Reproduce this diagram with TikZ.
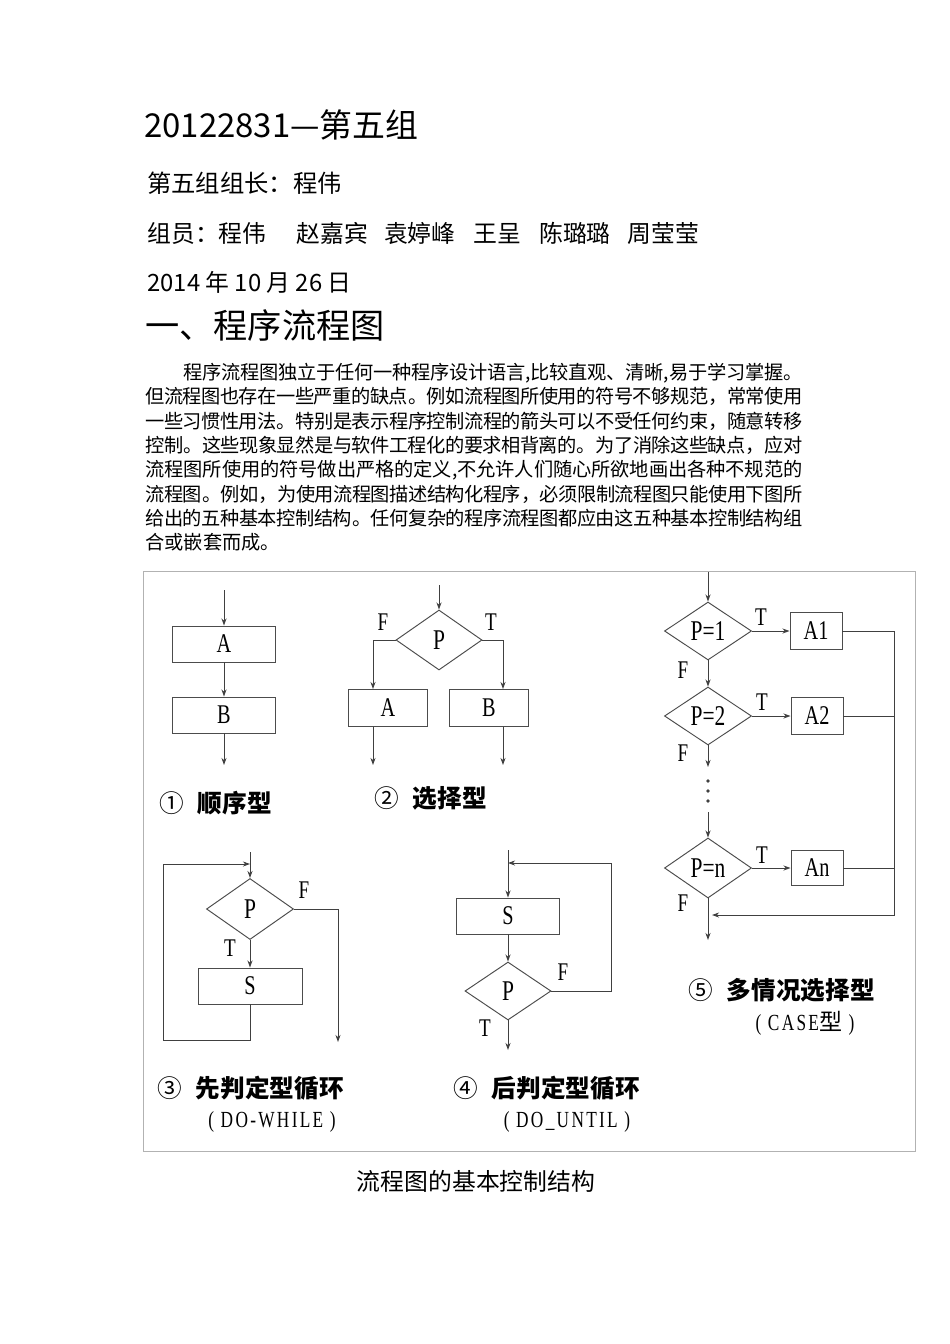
\documentclass[tikz,border=0pt]{standalone}
\usepackage{fontspec}
\usetikzlibrary{shapes.geometric,arrows.meta}
\setmainfont{Noto Sans CJK SC}
\newfontfamily\letterfont[FakeStretch=0.75]{Liberation Serif}
\newfontfamily\notefont[FakeStretch=0.75,LetterSpace=10]{Liberation Serif}
\newlength{\px}
\setlength{\px}{0.2211mm}
\XeTeXlinebreaklocale "zh"
\XeTeXlinebreakskip=0pt plus 1pt minus 0.6pt

\begin{document}
\begin{tikzpicture}[
    x=0.2211mm, y=-0.2211mm,
    head/.style={anchor=west, inner sep=0pt},
    sbox/.style={draw=black!70, line width=0.6pt, inner sep=0pt,
                 minimum width=103*\px, minimum height=36*\px,
                 font=\letterfont\fontsize{17}{17}\selectfont},
    cond/.style={draw=black!70, line width=0.6pt, diamond, inner sep=0pt,
                 minimum width=86*\px, minimum height=59*\px,
                 font=\letterfont\fontsize{18}{18}\selectfont},
    flow/.style={draw=black!75, line width=0.6pt,
                 -{Stealth[length=4.5pt,width=3.2pt]}},
    link/.style={draw=black!75, line width=0.6pt},
    tf/.style={inner sep=0pt, font=\letterfont\fontsize{16}{16}\selectfont},
    kind/.style={anchor=west, inner sep=0pt,
                 font=\bfseries\fontsize{15.5}{16}\selectfont},
    note/.style={inner sep=0pt, font=\notefont\fontsize{14.5}{15}\selectfont},
  ]
    \path[fill=white] (0,0) rectangle (950,1344);
    \useasboundingbox (0,0) rectangle (950,1344);

    % page text
    \node[head, font=\fontsize{20.7}{24}\selectfont] (title) at (144,125)
      {20122831—第五组};
    \node[head, font=\fontsize{15.3}{18}\selectfont] (leader) at (147,183)
      {第五组组长：程伟};
    \node[head, font=\fontsize{15}{18}\selectfont] (members) at (147,233)
      {组员：程伟\hspace{30\px}赵嘉宾\hspace{16\px}袁婷峰\hspace{18\px}王呈\hspace{18\px}陈璐璐\hspace{17\px}周莹莹};
    \node[head, font=\fontsize{15}{18}\selectfont] (date) at (147,282)
      {2014 年 10 月 26 日};
    \node[head, font=\fontsize{21.5}{26}\selectfont] (section) at (145,325)
      {一、程序流程图};
    \node[anchor=north west, inner sep=0pt, text width=145.3mm, align=justify,
          font=\fontsize{12.1}{15.3}\selectfont] (intro) at (145,363)
      {\hspace*{38\px}程序流程图独立于任何一种程序设计语言,比较直观、清晰,易于学习掌握。\linebreak
       但流程图也存在一些严重的缺点。例如流程图所使用的符号不够规范，常常使用\linebreak
       一些习惯性用法。特别是表示程序控制流程的箭头可以不受任何约束，随意转移\linebreak
       控制。这些现象显然是与软件工程化的要求相背离的。为了消除这些缺点，应对\linebreak
       流程图所使用的符号做出严格的定义,不允许人们随心所欲地画出各种不规范的\linebreak
       流程图。例如，为使用流程图描述结构化程序，必须限制流程图只能使用下图所\linebreak
       给出的五种基本控制结构。任何复杂的程序流程图都应由这五种基本控制结构组\linebreak
       合或嵌套而成。};

    % figure frame
    \draw[black!30, line width=0.5pt] (143,571) rectangle (915,1151);

    % (1) sequence
    \node[sbox] (seqA) at (224,644) {A};
    \node[sbox] (seqB) at (224,715) {B};
    \coordinate (seqIn) at (224,590);
    \coordinate (seqOut) at (224,765);
    \draw[flow] (seqIn) -- (seqA);
    \draw[flow] (seqA) -- (seqB);
    \draw[flow] (seqB) -- (seqOut);
    \node[kind] (seqName) at (159,803) {{\mdseries ①}\hspace{14\px}顺序型};

    % (2) selection
    \node[cond, minimum height=60*\px] (selP) at (439,640) {P};
    \node[sbox, minimum width=79*\px, minimum height=37*\px] (selA) at (388,708) {A};
    \node[sbox, minimum width=79*\px, minimum height=37*\px] (selB) at (489,708) {B};
    \coordinate (selIn) at (439,585);
    \coordinate (selL) at (373,640);
    \coordinate (selR) at (503,640);
    \coordinate (selAOut) at (373,765);
    \coordinate (selBOut) at (503,765);
    \draw[flow] (selIn) -- (selP);
    \draw[flow] (selP.west) -- (selL) -- (selL |- selA.north);
    \draw[flow] (selP.east) -- (selR) -- (selR |- selB.north);
    \draw[flow] (selL |- selA.south) -- (selAOut);
    \draw[flow] (selR |- selB.south) -- (selBOut);
    \node[tf] (selF) at (383,622) {F};
    \node[tf] (selT) at (491,622) {T};
    \node[kind] (selName) at (374,798) {{\mdseries ②}\hspace{14\px}选择型};

    % (3) do-while
    \node[cond, minimum width=87*\px, minimum height=61*\px] (whP) at (250,909) {P};
    \node[sbox, minimum width=104*\px] (whS) at (250,986) {S};
    \coordinate (whIn) at (250,852);
    \coordinate (whJoin) at (250,864);
    \coordinate (whBack) at (163,1040);
    \coordinate (whF) at (338,909);
    \coordinate (whOut) at (338,1042);
    \draw[flow] (whIn) -- (whP);
    \draw[flow] (whP) -- (whS);
    \draw[flow] (whS.south) |- (whBack) |- (whJoin);
    \draw[flow] (whP.east) -- (whF) -- (whOut);
    \node[tf] (whFl) at (304,890) {F};
    \node[tf] (whTl) at (230,948) {T};
    \node[kind] (whName) at (157,1088) {{\mdseries ③}\hspace{14\px}先判定型循环};
    \node[note] (whNote) at (272,1122) {( DO-WHILE )};

    % (4) do-until
    \node[sbox] (unS) at (508,916) {S};
    \node[cond, minimum height=58*\px] (unP) at (508,991) {P};
    \coordinate (unIn) at (508,850);
    \coordinate (unBack) at (611,863);
    \coordinate (unJoin) at (508,863);
    \coordinate (unOut) at (508,1050);
    \draw[flow] (unIn) -- (unS);
    \draw[flow] (unS) -- (unP);
    \draw[flow] (unP.east) -| (unBack) -- (unJoin);
    \draw[flow] (unP) -- (unOut);
    \node[tf] (unFl) at (563,972) {F};
    \node[tf] (unTl) at (485,1028) {T};
    \node[kind] (unName) at (453,1088) {{\mdseries ④}\hspace{14\px}后判定型循环};
    \node[note] (unNote) at (567,1122) {( DO\_UNTIL )};

    % (5) case
    \node[cond, minimum width=87*\px, minimum height=58*\px] (caseP1) at (708,631) {P=1};
    \node[cond, minimum width=87*\px, minimum height=58*\px] (caseP2) at (708,716) {P=2};
    \node[cond, minimum width=87*\px, minimum height=60*\px] (casePn) at (708,868) {P=n};
    \node[sbox, minimum width=52*\px, minimum height=37*\px] (caseA1) at (816,631) {A1};
    \node[sbox, minimum width=52*\px, minimum height=37*\px] (caseA2) at (817,716) {A2};
    \node[sbox, minimum width=52*\px, minimum height=35*\px] (caseAn) at (817,868) {An};
    \coordinate (caseIn) at (708,572);
    \coordinate (caseMid) at (708,767);
    \coordinate (caseRe) at (708,812);
    \coordinate (caseBus) at (894,915);
    \coordinate (caseJoin) at (712,915);
    \coordinate (caseOut) at (708,940);
    \draw[flow] (caseIn) -- (caseP1);
    \draw[flow] (caseP1) -- (caseP2);
    \draw[flow] (caseP2) -- (caseMid);
    \foreach \y in {781,791,801}
      \fill[black!75] (708,\y) circle[radius=1.2pt];
    \draw[flow] (caseRe) -- (casePn);
    \draw[flow] (casePn) -- (caseOut);
    \draw[flow] (caseP1) -- (caseA1);
    \draw[flow] (caseP2) -- (caseA2);
    \draw[flow] (casePn) -- (caseAn);
    \draw[flow] (caseA1.east) -| (caseBus) -- (caseJoin);
    \draw[link] (caseA2.east) -- (caseA2.east -| caseBus);
    \draw[link] (caseAn.east) -- (caseAn.east -| caseBus);
    \node[tf] (caseT1) at (761,617) {T};
    \node[tf] (caseT2) at (762,702) {T};
    \node[tf] (caseTn) at (762,855) {T};
    \node[tf] (caseF1) at (683,670) {F};
    \node[tf] (caseF2) at (683,753) {F};
    \node[tf] (caseFn) at (683,903) {F};
    \node[kind] (caseName) at (688,990) {{\mdseries ⑤}\hspace{14\px}多情况选择型};
    \node[note] (caseNote) at (805,1023) {( CASE{\normalfont 型} )};

    \node[inner sep=0pt, font=\fontsize{15}{18}\selectfont] (caption) at (476,1181)
      {流程图的基本控制结构};
  \end{tikzpicture}
\end{document}
